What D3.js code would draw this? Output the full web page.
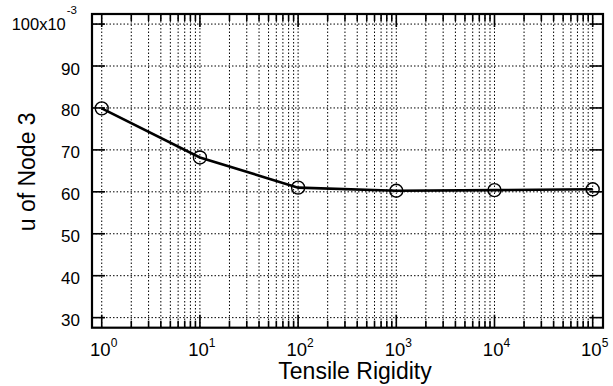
<!DOCTYPE html>
<html>
<head>
<meta charset="utf-8">
<script src="https://cdn.jsdelivr.net/npm/d3@7"></script>
<style>
  body { margin: 0; background: #fff; }
  svg { display: block; font-family: "Liberation Sans", Arial, sans-serif; }
</style>
</head>
<body>
<div id="chart"></div>
<script>
const W = 613, H = 386;

// data
const rigidity = [1, 10, 100, 1000, 10000, 100000];
const uNode3 = [79.9, 68.2, 61.0, 60.25, 60.4, 60.6];

// axis ticks
const xMajor = [1, 10, 100, 1000, 10000, 100000];
const xExponents = ["0", "1", "2", "3", "4", "5"];
const yTicks = [30, 40, 50, 60, 70, 80, 90, 100];
const yTickLabels = ["30", "40", "50", "60", "70", "80", "90", "100x10"];
const yTopExponent = "-3";

const box = { left: 92, right: 603, top: 14, bottom: 327.7 };

const x = d3.scaleLog()
  .domain([Math.pow(10, -0.099), Math.pow(10, 5.105)])
  .range([box.left, box.right]);
const y = d3.scaleLinear()
  .domain([27.6, 102.4])
  .range([box.bottom, box.top]);

const xMinor = [];
xMajor.slice(0, -1).forEach(d => {
  for (let k = 2; k <= 9; k++) xMinor.push(d * k);
});

const svg = d3.select("#chart").append("svg")
  .attr("width", W)
  .attr("height", H);

// dotted grid
const grid = svg.append("g")
  .attr("stroke", "#000")
  .attr("stroke-width", 1)
  .attr("stroke-dasharray", "1.5,2");
grid.selectAll("line.v")
  .data(xMajor.concat(xMinor))
  .enter().append("line")
  .attr("x1", d => x(d)).attr("x2", d => x(d))
  .attr("y1", box.top).attr("y2", box.bottom);
grid.selectAll("line.h")
  .data(yTicks)
  .enter().append("line")
  .attr("y1", d => y(d)).attr("y2", d => y(d))
  .attr("x1", box.left).attr("x2", box.right);

// ticks (inward, on all four sides)
const tickG = svg.append("g").attr("stroke", "#000").attr("stroke-width", 1.6);
const drawX = (vals, len) => {
  tickG.selectAll(null).data(vals).enter().append("line")
    .attr("x1", d => x(d)).attr("x2", d => x(d))
    .attr("y1", box.bottom).attr("y2", box.bottom - len);
  tickG.selectAll(null).data(vals).enter().append("line")
    .attr("x1", d => x(d)).attr("x2", d => x(d))
    .attr("y1", box.top).attr("y2", box.top + len);
};
drawX(xMajor, 13);
drawX(xMinor, 7);
tickG.selectAll(null).data(yTicks).enter().append("line")
  .attr("y1", d => y(d)).attr("y2", d => y(d))
  .attr("x1", box.left).attr("x2", box.left + 13);
tickG.selectAll(null).data(yTicks).enter().append("line")
  .attr("y1", d => y(d)).attr("y2", d => y(d))
  .attr("x1", box.right).attr("x2", box.right - 13);

// frame
svg.append("rect")
  .attr("x", box.left).attr("y", box.top)
  .attr("width", box.right - box.left)
  .attr("height", box.bottom - box.top)
  .attr("fill", "none")
  .attr("stroke", "#000")
  .attr("stroke-width", 2.2);

// x tick labels 10^n
const xl = svg.append("g").selectAll("text")
  .data(xMajor)
  .enter().append("text")
  .attr("x", d => x(d) + 2)
  .attr("y", 356)
  .attr("text-anchor", "middle")
  .attr("font-size", 18.5)
  .attr("fill", "#000");
xl.append("tspan").text("10");
xl.append("tspan")
  .attr("font-size", 12)
  .attr("dy", -9)
  .text((d, i) => xExponents[i]);

// y tick labels
const yl = svg.append("g").selectAll("text")
  .data(yTicks)
  .enter().append("text")
  .attr("x", 80)
  .attr("y", d => y(d) + (d === 100 ? 6 : 8.5))
  .attr("text-anchor", "end")
  .attr("font-size", 17)
  .attr("fill", "#000");
yl.append("tspan").text((d, i) => yTickLabels[i]);
yl.filter(d => d === 100).append("tspan")
  .attr("font-size", 11.5)
  .attr("dy", -16)
  .attr("dx", 1)
  .text(yTopExponent);
yl.filter(d => d === 100).attr("x", 77).attr("font-size", 16.5);

// axis titles
svg.append("text")
  .attr("x", 355)
  .attr("y", 379)
  .attr("text-anchor", "middle")
  .attr("font-size", 23)
  .text("Tensile Rigidity");
svg.append("text")
  .attr("transform", `translate(35, ${(box.top + box.bottom) / 2 + 1}) rotate(-90)`)
  .attr("text-anchor", "middle")
  .attr("font-size", 23)
  .text("u of Node 3");

// data line + hollow circles
const pts = rigidity.map((r, i) => ({ r, u: uNode3[i] }));
svg.append("path")
  .datum(pts)
  .attr("fill", "none")
  .attr("stroke", "#000")
  .attr("stroke-width", 2.6)
  .attr("d", d3.line().x(d => x(d.r)).y(d => y(d.u)));
svg.append("g").selectAll("circle")
  .data(pts)
  .enter().append("circle")
  .attr("cx", d => x(d.r))
  .attr("cy", d => y(d.u))
  .attr("r", 6.5)
  .attr("fill", "none")
  .attr("stroke", "#000")
  .attr("stroke-width", 1.4);
</script>
</body>
</html>
